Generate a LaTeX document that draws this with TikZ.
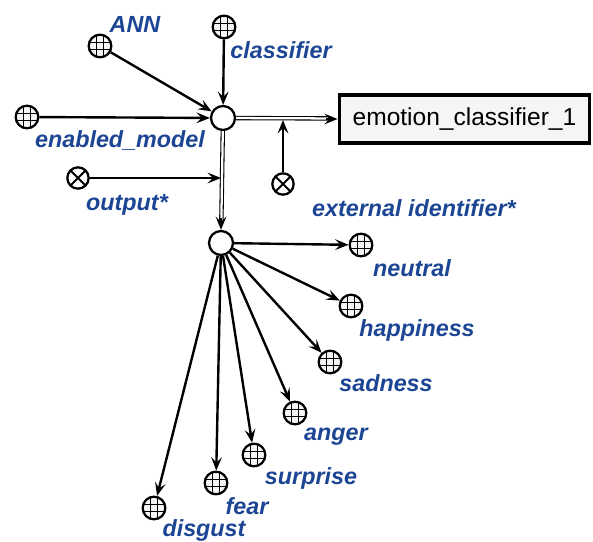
\documentclass[tikz,border=0pt]{standalone}
\usepackage{fontspec}
\setsansfont{Liberation Sans}
\usepackage{xcolor}
\usetikzlibrary{arrows.meta}

\definecolor{lblblue}{RGB}{28,70,148}

\begin{document}
\begin{tikzpicture}[
    x=0.75pt, y=-0.75pt,
    font=\sffamily,
    every node/.style={align=center},
    glob/.style={circle, draw, line width=1.7pt, minimum size=17pt, inner sep=0pt, fill=gray!8,
        path picture={
          \foreach \s in {-2.8pt,2.8pt}{
            \draw[line width=0.7pt] ([xshift=\s]path picture bounding box.north) -- ([xshift=\s]path picture bounding box.south);
            \draw[line width=0.7pt] ([yshift=\s]path picture bounding box.west) -- ([yshift=\s]path picture bounding box.east);
          }}},
    xmark/.style={circle, draw, line width=1.7pt, minimum size=16pt, inner sep=0pt, fill=white,
        path picture={
          \draw[line width=1.4pt] (path picture bounding box.north west) -- (path picture bounding box.south east);
          \draw[line width=1.4pt] (path picture bounding box.north east) -- (path picture bounding box.south west);
        }},
    junc/.style={circle, draw, line width=1.7pt, minimum size=18pt, inner sep=0pt, fill=white},
    cbox/.style={rectangle, draw, line width=2.4pt, fill=gray!8, minimum width=188pt, minimum height=36pt,
        font=\sffamily\fontsize{18.4}{20}\selectfont},
    lbl/.style={font=\sffamily\bfseries\itshape\fontsize{17.5}{20}\selectfont, text=lblblue, inner sep=0pt},
    arr/.style={-{Stealth[length=10pt,width=8pt,inset=4pt]}, line width=1.8pt},
    dbl/.style={double, double distance=1.7pt, line width=0.8pt, shorten >=7pt}
]
\useasboundingbox (0,0) rectangle (593,542);

% upper junction and its inputs
\node[junc] (j1) at (223,118) {};
\node[glob] (ann) at (100,46)  {};
\node[glob] (cls) at (224,27)  {};
\node[glob] (enm) at (27,117)  {};
\node[xmark] (xout) at (78,178) {};
\node[xmark] (xext) at (283,184) {};

\node[lbl] at (135,24)  {ANN};
\node[lbl] at (281,50)  {classifier};
\node[lbl] at (120,140) {enabled\_model};
\node[lbl] at (127,205) {output*};
\node[lbl] at (414,208) {external identifier*};

\node[cbox] (emo) at (464.5,119) {emotion\_classifier\_1};

% lower junction and emotions
\node[junc] (j2) at (221,243) {};
\node[glob] (neu) at (361,245) {};
\node[glob] (hap) at (351,306) {};
\node[glob] (sad) at (330,362) {};
\node[glob] (ang) at (295,413) {};
\node[glob] (sur) at (254,455) {};
\node[glob] (fea) at (216,483) {};
\node[glob] (dis) at (154,508) {};

\node[lbl] at (412,268) {neutral};
\node[lbl] at (417,330) {happiness};
\node[lbl] at (386,383) {sadness};
\node[lbl] at (336,437) {anger};
\node[lbl] at (311,478) {surprise};
\node[lbl] at (247,506) {fear};
\node[lbl] at (204,530) {disgust};

\foreach \n in {ann,cls,enm}
  \draw[arr] (\n) -- (j1);

% double links, solid tips on top
\draw[dbl] (j1) -- (emo);
\draw[dbl] (j1) -- (j2);
\draw[arr] ([xshift=-9pt]emo.west) -- (emo.west);
\draw[arr] ([yshift=9pt]j2.north) -- (j2.north);

\draw[arr, shorten >=1.5pt] (xout) -- (xout -| j1);
\draw[arr, shorten >=1.5pt] (xext) -- (xext |- j1);

\foreach \n in {neu,hap,sad,ang,sur,fea,dis}
  \draw[arr] (j2) -- (\n);

\end{tikzpicture}
\end{document}
